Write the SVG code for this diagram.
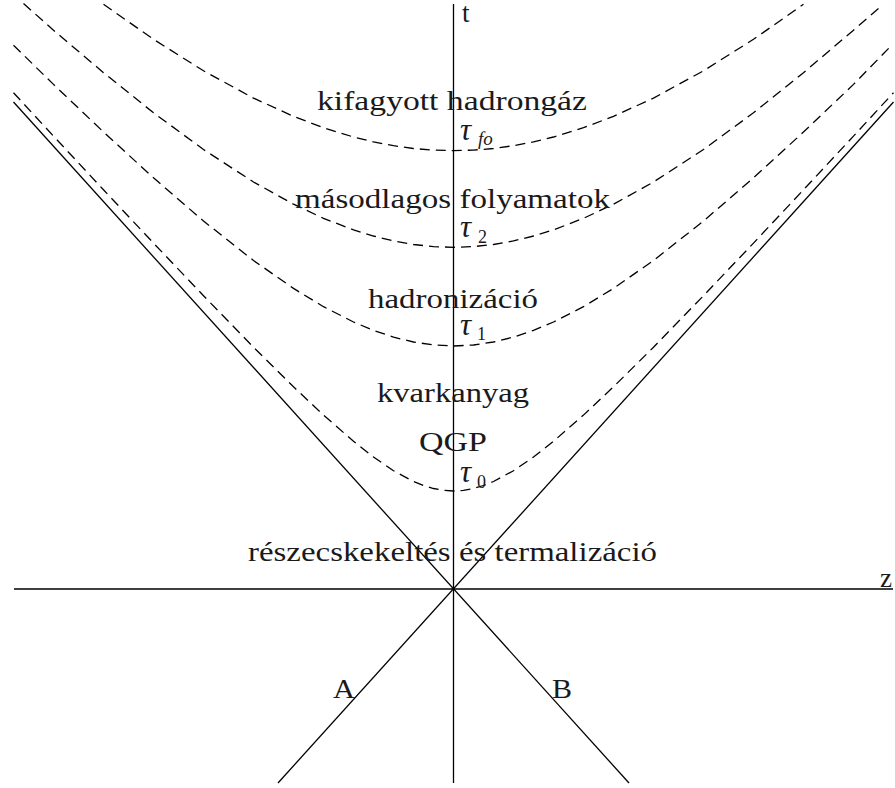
<svg xmlns="http://www.w3.org/2000/svg" width="895" height="788" viewBox="0 0 895 788">
<style>
.ax{stroke:#000;stroke-width:1.3;fill:none}
.hy{stroke:#000;stroke-width:1.3;fill:none;stroke-dasharray:10 6}
.lb{font-family:"Liberation Serif","Times New Roman",serif;font-size:27px;fill:#1a1a1a}
.gk{font-family:"Liberation Serif","Times New Roman",serif;font-size:31px;font-style:italic;fill:#1a1a1a}
.sb{font-family:"Liberation Serif","Times New Roman",serif;font-size:18px;fill:#1a1a1a}
.sbi{font-family:"Liberation Serif","Times New Roman",serif;font-size:19px;font-style:italic;fill:#1a1a1a}
</style>
<rect width="895" height="788" fill="#fff"/>
<g id="axes">
<line class="ax" x1="453.5" y1="4" x2="453.5" y2="783"/>
<line class="ax" x1="14" y1="589" x2="893" y2="589"/>
<line class="ax" x1="13.5" y1="102" x2="629" y2="783"/>
<line class="ax" x1="893.5" y1="102" x2="278" y2="783"/>
</g>
<g id="hyperbolas">
<polyline id="tau0" class="hy" points="13.5,92.7 53.5,136.1 103.5,189.8 153.5,243.1 203.5,295.7 253.5,347.2 293.5,386.8 323.5,415.1 353.5,441.3 373.5,457.0 393.5,470.7 413.5,481.5 423.5,485.5 433.5,488.5 443.5,490.4 453.5,491 463.5,490.4 473.5,488.5 483.5,485.5 493.5,481.5 513.5,470.7 533.5,457.0 553.5,441.3 583.5,415.1 613.5,386.8 653.5,347.2 703.5,295.7 753.5,243.1 803.5,189.8 853.5,136.1 893.5,92.7"/>
<polyline id="tau1" class="hy" points="13.5,45.2 53.5,84.4 103.5,132.0 153.5,177.8 203.5,221.0 253.5,260.5 293.5,288.4 323.5,306.7 353.5,322.0 373.5,330.4 393.5,337.1 413.5,342.0 433.5,345.0 453.5,346 473.5,345.0 493.5,342.0 513.5,337.1 533.5,330.4 553.5,322.0 583.5,306.7 613.5,288.4 653.5,260.5 703.5,221.0 753.5,177.8 803.5,132.0 853.5,84.4 891,46"/>
<polyline id="tau2" class="hy" points="23.5,3.5 53.5,30.2 103.5,72.7 153.5,112.8 203.5,149.5 253.5,182.0 293.5,204.2 323.5,218.3 353.5,229.9 373.5,236.0 393.5,240.9 413.5,244.5 433.5,246.6 453.5,247.3 473.5,246.6 493.5,244.5 513.5,240.9 533.5,236.0 553.5,229.9 583.5,218.3 613.5,204.2 653.5,182.0 703.5,149.5 753.5,112.8 803.5,72.7 853.5,30.2 878.5,8.5"/>
<polyline id="taufo" class="hy" points="103.5,4.3 153.5,39.3 203.5,70.8 253.5,98.1 293.5,116.3 323.5,127.7 353.5,137.0 373.5,141.9 393.5,145.7 413.5,148.5 433.5,150.1 453.5,150.7 473.5,150.1 493.5,148.5 513.5,145.7 533.5,141.9 553.5,137.0 583.5,127.7 613.5,116.3 653.5,98.1 703.5,70.8 753.5,39.3 803.5,4.3"/>
</g>
<g id="labels">
<text class="lb" x="462" y="21.7">t</text>
<text class="lb" x="880" y="586.7">z</text>
<text class="lb" x="317" y="110" textLength="270" lengthAdjust="spacingAndGlyphs">kifagyott hadrongáz</text>
<text class="gk" x="460" y="140">τ</text><text class="sbi" x="478" y="145">fo</text>
<text class="lb" x="295" y="208" textLength="315" lengthAdjust="spacingAndGlyphs">másodlagos folyamatok</text>
<text class="gk" x="460" y="237">τ</text><text class="sb" x="478" y="243">2</text>
<text class="lb" x="368" y="307.7" textLength="170" lengthAdjust="spacingAndGlyphs">hadronizáció</text>
<text class="gk" x="460" y="335">τ</text><text class="sb" x="477" y="340">1</text>
<text class="lb" x="377" y="401.5" textLength="152" lengthAdjust="spacingAndGlyphs">kvarkanyag</text>
<text class="lb" x="419" y="450.7" textLength="68" lengthAdjust="spacingAndGlyphs">QGP</text>
<text class="gk" x="460" y="482">τ</text><text class="sb" x="477" y="488">0</text>
<text class="lb" x="248" y="560.7" textLength="409" lengthAdjust="spacingAndGlyphs">részecskekeltés és termalizáció</text>
<text class="lb" x="333" y="698" textLength="22" lengthAdjust="spacingAndGlyphs">A</text>
<text class="lb" x="552" y="698" textLength="20" lengthAdjust="spacingAndGlyphs">B</text>
</g>
</svg>
